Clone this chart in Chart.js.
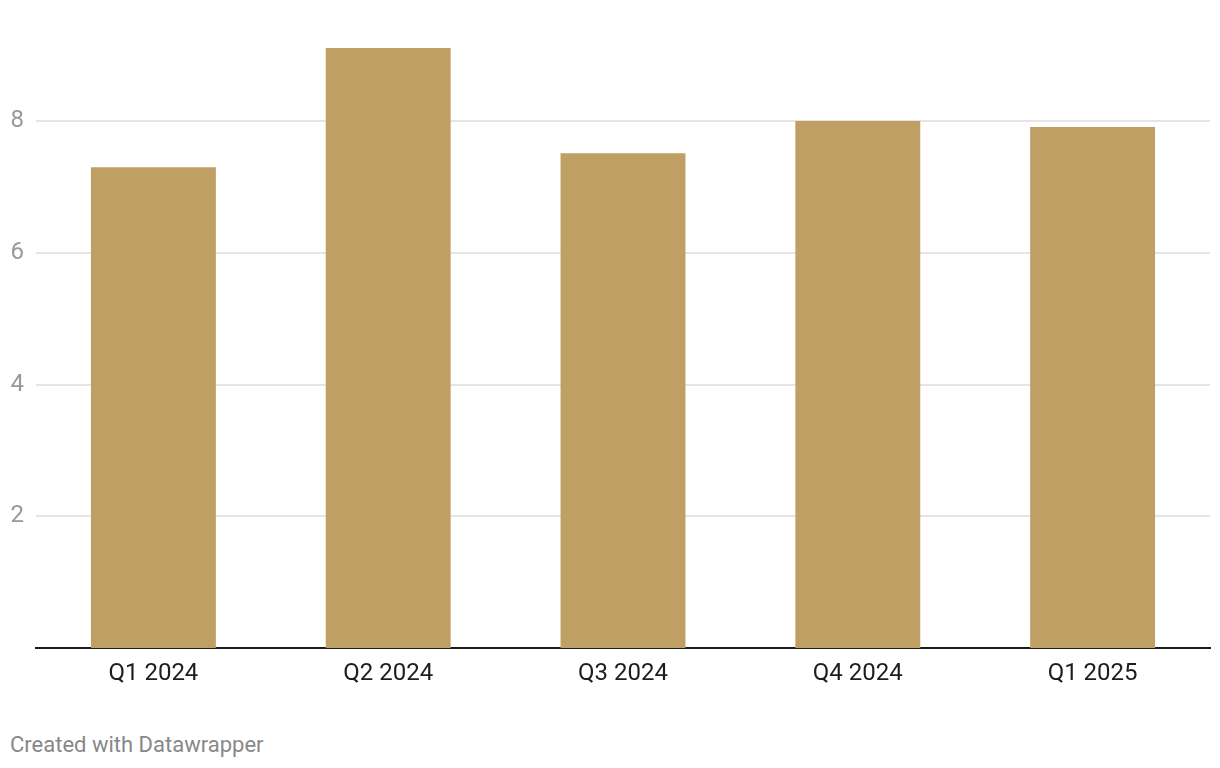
<!DOCTYPE html>
<html>
<head>
<meta charset="utf-8">
<script src="https://cdn.jsdelivr.net/npm/chart.js@4/dist/chart.umd.min.js"></script>
<style>
  body { margin: 0; background: #fff; font-family: Roboto, sans-serif; }
  #wrap { position: relative; width: 1220px; height: 700px; }
  #note { position: absolute; left: 10px; top: 732px; font-size: 22px; color: #888; }
</style>
</head>
<body>
<div id="wrap"><canvas id="mycanvas" width="1220" height="700"></canvas></div>
<div id="note">Created with Datawrapper</div>
<script>
var quarterLabels = ['Q1 2024', 'Q2 2024', 'Q3 2024', 'Q4 2024', 'Q1 2025'];
var score = [7.3, 9.11, 7.51, 8.0, 7.91];
var yTicks = [2, 4, 6, 8];

var chartdata = {
  labels: quarterLabels,
  datasets: [
    {
      label: 'Value',
      backgroundColor: '#bf9f63',
      hoverBackgroundColor: '#bf9f63',
      borderWidth: 0,
      barPercentage: 0.532,
      categoryPercentage: 1,
      data: score
    }
  ]
};

var ctx = document.getElementById('mycanvas');

var barGraph = new Chart(ctx, {
  type: 'bar',
  data: chartdata,
  options: {
    responsive: false,
    animation: false,
    layout: { padding: { top: 42, right: 10, left: 0, bottom: 0 } },
    plugins: { legend: { display: false }, tooltip: { enabled: false } },
    scales: {
      x: {
        grid: { display: false, drawTicks: false },
        border: { display: true, color: '#1a1a1a', width: 2 },
        ticks: { color: '#1d1d1d', font: { family: 'Roboto', size: 24 }, padding: 12 },
        afterFit: function(s) { s.height = 52; }
      },
      y: {
        min: 0,
        max: 9.2,
        grid: {
          color: '#e5e5e5',
          lineWidth: 2,
          drawTicks: false
        },
        border: { display: false },
        ticks: { color: '#999', font: { family: 'Roboto', size: 24 }, padding: 12 },
        afterBuildTicks: function(s) {
          s.ticks = yTicks.map(function(v) { return { value: v }; });
        },
        afterFit: function(s) { s.width = 36; }
      }
    }
  }
});
</script>
</body>
</html>
